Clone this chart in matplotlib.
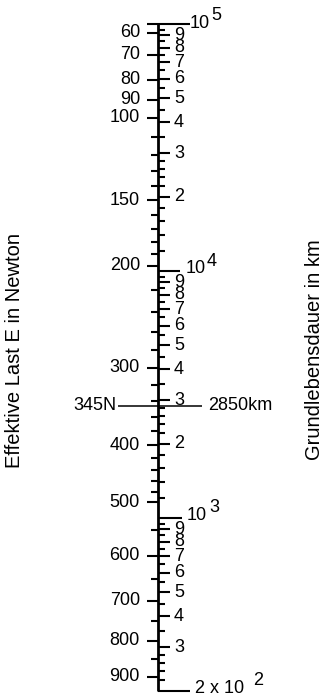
import numpy as np
import matplotlib.pyplot as plt

plt.rcParams['font.family'] = ['Liberation Sans', 'DejaVu Sans']

# right scale: Grundlebensdauer in km (log scale)
life_major = [m * d for d in [1e4, 1e3] for m in [9, 8, 7, 6, 5, 4, 3, 2]] + [900, 800, 700, 600, 500, 400, 300]
life_bottom = 200
life_minor_mant = [1.2, 1.4, 1.6, 1.8, 2.2, 2.4, 2.6, 2.8, 3.5, 4.5, 5.5, 6.5, 7.5, 8.5, 9.5]

# left scale: Effektive Last E in Newton, read as equivalent life on the right scale
load_labels = [60, 70, 80, 90, 100, 150, 200, 300, 400, 500, 600, 700, 800, 900]
load_life = [92000, 75000, 59400, 49400, 41800, 19300, 10500, 4060, 1970, 1160, 703, 463, 319, 228]
load_minor = [110, 120, 130, 140, 160, 170, 180, 190, 220, 240, 260, 280, 320, 340, 360, 380,
              420, 440, 460, 480, 550, 650, 750, 850]

# example reading
ex_load, ex_life = 345, 2850


def load_to_life(e):
    return 10 ** np.interp(np.log10(e), np.log10(load_labels), np.log10(load_life))


fig = plt.figure(figsize=(3.25, 7), dpi=100)
ax = fig.add_axes([0, 0, 1, 1])
ax.set_xlim(0, 325)
ax.set_yscale('log')
dec = 247
ax.set_ylim(10 ** (5 - 676 / dec), 10 ** (5 + 24 / dec))
ax.axis('off')

x0 = 158
lw = 1.5
fs = 13
k = 'black'

# main axis line
ax.vlines(x0, life_bottom, 1e5, color=k, lw=2)

# right scale
ax.hlines(life_major, x0, x0 + 12, color=k, lw=lw)
minor_r = [m * d for d in [1e4, 1e3, 1e2] for m in life_minor_mant]
minor_r = [v for v in minor_r if v >= life_bottom]
ax.hlines(minor_r, x0, x0 + 7, color=k, lw=lw)
for v in life_major:
    mant = int(round(v / 10 ** np.floor(np.log10(v))))
    ax.text(x0 + 16, v, str(mant), ha='left', va='center', fontsize=fs)

# decade lines
sup = 10 ** (8 / dec)
up = 10 ** (2 / dec)
ax.hlines(1e5, x0 - 11, x0 + 32, color=k, lw=lw)
ax.hlines(1e4, x0, x0 + 22, color=k, lw=lw)
ax.hlines(1e3, x0, x0 + 24, color=k, lw=lw)
ax.hlines(life_bottom, x0, x0 + 32, color=k, lw=lw)
ax.text(x0 + 32, 1e5, '10', ha='left', va='center', fontsize=fs)
ax.text(x0 + 53, 1e5 * sup, '5', ha='left', va='center', fontsize=fs)
ax.text(x0 + 28, 1e4 * up, '10', ha='left', va='center', fontsize=fs)
ax.text(x0 + 49, 1e4 * sup * up, '4', ha='left', va='center', fontsize=fs)
ax.text(x0 + 29, 1e3 * up, '10', ha='left', va='center', fontsize=fs)
ax.text(x0 + 51, 1e3 * sup * up, '3', ha='left', va='center', fontsize=fs)
ax.text(x0 + 37, life_bottom * up, '2 x 10', ha='left', va='center', fontsize=fs)
ax.text(x0 + 95, life_bottom * sup * up, '2', ha='left', va='center', fontsize=fs)

# left scale
ax.hlines(load_life, x0 - 11, x0, color=k, lw=lw)
ax.hlines(load_to_life(np.array(load_minor)), x0 - 7, x0, color=k, lw=lw)
for e, v in zip(load_labels, load_life):
    ax.text(x0 - 18, v, str(e), ha='right', va='center', fontsize=fs)

# example line
ax.hlines(ex_life, x0 - 40, x0 + 44, color=k, lw=1.1)
ax.text(x0 - 42, ex_life, f'{ex_load}N', ha='right', va='center', fontsize=fs)
ax.text(x0 + 50, ex_life, f'{ex_life}km', ha='left', va='center', fontsize=fs)

# titles
fig.text(15 / 325, 0.5, 'Effektive Last E in Newton', rotation=90, ha='center', va='center', fontsize=14.5)
fig.text(314 / 325, 0.5, 'Grundlebensdauer in km', rotation=90, ha='center', va='center', fontsize=14.5)

fig.savefig('out.png', dpi=100)
